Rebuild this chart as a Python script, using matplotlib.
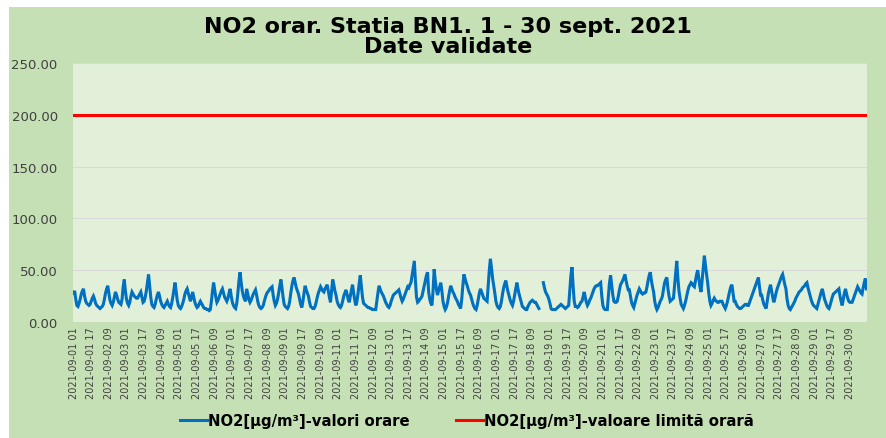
import matplotlib
matplotlib.use('Agg')
import matplotlib.pyplot as plt
import numpy as np
from matplotlib.patches import Rectangle

nan = np.nan

# hourly NO2 values, one row per day (hours 01..24)
no2_days = [
  [28, 30, 22, 16, 15, 18, 22, 27, 30, 32, 25, 20, 18, 17, 16, 17, 20, 23, 25, 22, 18, 16, 15, 14],
  [13, 14, 15, 17, 22, 28, 32, 35, 28, 21, 18, 16, 19, 24, 29, 26, 22, 19, 18, 17, 22, 34, 41, 30],
  [22, 18, 16, 19, 25, 29, 27, 25, 24, 23, 23, 25, 27, 29, 24, 19, 20, 24, 30, 38, 46, 35, 24, 17],
  [15, 14, 17, 22, 26, 29, 25, 20, 17, 15, 14, 16, 18, 20, 17, 15, 14, 18, 24, 31, 38, 30, 21, 16],
  [14, 13, 15, 18, 22, 27, 30, 32, 28, 24, 20, 24, 29, 24, 19, 16, 14, 15, 18, 20, 18, 16, 14, 13],
  [13, 12, 12, 11, 12, 20, 30, 38, 31, 24, 19, 21, 24, 27, 30, 32, 28, 24, 22, 20, 23, 28, 32, 25],
  [19, 16, 14, 13, 18, 28, 40, 48, 38, 30, 25, 22, 20, 32, 27, 22, 19, 21, 24, 27, 29, 31, 26, 20],
  [16, 14, 13, 14, 16, 20, 24, 27, 29, 30, 32, 33, 34, 26, 20, 16, 18, 22, 28, 35, 41, 33, 24, 17],
  [15, 14, 13, 15, 20, 28, 35, 40, 43, 38, 33, 30, 27, 22, 17, 14, 20, 28, 35, 31, 28, 25, 19, 15],
  [14, 13, 13, 15, 19, 24, 28, 31, 34, 32, 30, 29, 32, 34, 36, 30, 24, 19, 30, 41, 36, 30, 26, 20],
  [17, 15, 14, 16, 20, 25, 28, 31, 27, 22, 19, 25, 31, 36, 28, 21, 16, 20, 28, 37, 45, 34, 24, 18],
  [17, 16, 15, 14, 14, 13, 13, 12, 12, 12, 12, 20, 28, 35, 32, 29, 27, 25, 22, 19, 17, 15, 14, 16],
  [20, 23, 26, 27, 28, 29, 30, 31, 27, 23, 20, 22, 25, 28, 31, 34, 33, 36, 38, 45, 52, 59, 40, 24],
  [19, 20, 22, 23, 25, 30, 35, 40, 45, 48, 29, 22, 18, 16, 30, 51, 40, 32, 26, 30, 34, 38, 30, 20],
  [15, 12, 14, 18, 24, 30, 35, 32, 29, 27, 24, 22, 20, 17, 15, 13, 22, 35, 46, 42, 38, 35, 31, 28],
  [26, 22, 18, 15, 13, 12, 16, 22, 28, 32, 29, 26, 23, 22, 21, 20, 35, 50, 61, 52, 42, 35, 28, 20],
  [16, 14, 13, 15, 20, 27, 33, 37, 40, 34, 29, 25, 21, 18, 16, 20, 26, 32, 38, 32, 27, 23, 19, 15],
  [14, 13, 12, 12, 15, 17, 19, 20, 21, 20, 19, 19, 17, 15, 13, nan, nan, nan, 38, 33, 29, 27, 25, 22],
  [18, 13, 12, 12, 12, 12, 13, 14, 15, 16, 17, 16, 15, 14, 13, 14, 15, 16, 30, 45, 53, 35, 20, 15],
  [15, 14, 15, 17, 19, 20, 24, 29, 24, 19, 16, 18, 21, 23, 26, 29, 32, 34, 35, 35, 36, 37, 38, 25],
  [16, 13, 12, 12, 12, 25, 38, 45, 35, 26, 20, 19, 19, 20, 25, 31, 36, 38, 40, 43, 46, 40, 35, 31],
  [31, 25, 19, 16, 14, 18, 22, 26, 29, 32, 30, 28, 27, 28, 28, 29, 34, 40, 45, 48, 40, 34, 29, 20],
  [15, 12, 14, 17, 20, 22, 25, 32, 38, 41, 43, 32, 25, 20, 21, 22, 23, 35, 48, 59, 42, 30, 23, 17],
  [15, 13, 16, 20, 25, 30, 34, 36, 38, 37, 35, 34, 40, 46, 50, 42, 34, 29, 40, 52, 64, 55, 46, 38],
  [28, 20, 16, 18, 21, 23, 21, 20, 19, 19, 20, 20, 20, 17, 15, 13, 16, 20, 25, 30, 34, 36, 28, 20],
  [20, 17, 15, 14, 13, 13, 14, 15, 16, 17, 17, 16, 16, 19, 22, 25, 28, 31, 34, 37, 40, 43, 34, 26],
  [26, 21, 17, 15, 13, 20, 27, 32, 36, 30, 24, 19, 23, 28, 32, 35, 38, 41, 44, 46, 41, 36, 32, 22],
  [16, 13, 12, 14, 16, 18, 20, 23, 25, 27, 29, 30, 31, 33, 34, 35, 37, 38, 33, 29, 25, 21, 18, 16],
  [15, 14, 13, 17, 21, 25, 29, 32, 27, 22, 19, 16, 14, 13, 16, 20, 24, 27, 28, 29, 30, 31, 32, 25],
  [20, 16, 22, 28, 32, 27, 23, 20, 19, 19, 19, 22, 25, 28, 31, 34, 32, 30, 28, 27, 33, 38, 42, 32],
]
limit_value = 200
y_ticks = [0, 50, 100, 150, 200, 250]
days = list(range(1, 31))
hours = list(range(1, 25))

categories = [f'2021-09-{d:02d} {h:02d}' for d in days for h in hours]
values = [v for day in no2_days for v in day]
x = np.arange(len(categories))

fig = plt.figure(figsize=(8.86, 4.39), dpi=100)
fig.patch.set_facecolor('white')
fig.add_artist(Rectangle((9 / 886, 0), 1 - 9 / 886, 1 - 8 / 439,
                         transform=fig.transFigure, facecolor='#C5E0B4',
                         edgecolor='none', zorder=0))

ax = fig.add_axes([73 / 886, 1 - 323 / 439, (867 - 73) / 886, (323 - 64) / 439])
ax.set_facecolor('#E2F0D9')
for s in ax.spines.values():
  s.set_visible(False)

ax.plot(x, values, color='#0070C0', lw=2.2, solid_joinstyle='miter',
        label='NO2[μg/m³]-valori orare', zorder=3)
ax.plot(x, [limit_value] * len(x), color='#FF0000', lw=2.2,
        label='NO2[μg/m³]-valoare limită orară', zorder=3)

ax.set_xlim(-0.5, len(x) - 0.5)
ax.set_ylim(0, 250)
ax.set_yticks(y_ticks)
ax.set_yticklabels([f'{t:.2f}' for t in y_ticks], fontsize=9.5, color='#404040')
ax.set_xticks(x[::16])
ax.set_xticklabels(categories[::16], rotation=90, fontsize=7, color='#404040')
ax.tick_params(axis='y', length=0, pad=11)
ax.tick_params(axis='x', length=0, pad=3)
ax.grid(axis='y', color='#D9D9D9', lw=0.8)
ax.set_axisbelow(True)

fig.text(448 / 886, 1 - 37 / 439, 'NO2 orar. Statia BN1. 1 - 30 sept. 2021\nDate validate',
         ha='center', va='center', fontsize=16, fontweight='bold', linespacing=1.05)

fig.legend(loc='center', bbox_to_anchor=(467 / 886, 1 - 422 / 439), ncol=2,
           frameon=False, prop={'size': 10.7, 'weight': 'bold'},
           handlelength=1.8, handletextpad=0.1, columnspacing=3.1)

fig.savefig('out.png', dpi=100, facecolor=fig.get_facecolor())
